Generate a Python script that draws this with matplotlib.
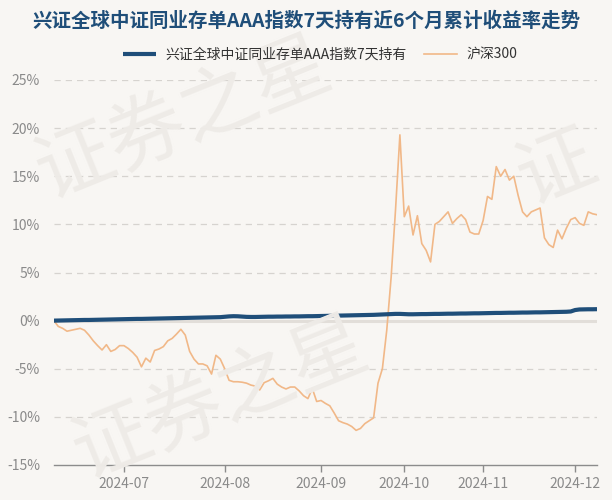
import numpy as np
import pandas as pd
import matplotlib
matplotlib.use("Agg")
import matplotlib.pyplot as plt

plt.rcParams['font.family'] = ['Noto Sans CJK SC', 'DejaVu Sans']

title = "兴证全球中证同业存单AAA指数7天持有近6个月累计收益率走势"
fund_name = "兴证全球中证同业存单AAA指数7天持有"
bench_name = "沪深300"

# trading calendar (Shanghai exchange), 2024-06-06 .. 2024-12-09
holidays = pd.to_datetime(["2024-06-10", "2024-09-16", "2024-09-17",
                           "2024-10-01", "2024-10-02", "2024-10-03",
                           "2024-10-04", "2024-10-07"])
dates = pd.bdate_range("2024-06-06", "2024-12-09")
dates = dates[~dates.isin(holidays)]

# cumulative return, %
hs300 = [
    0.0, -0.6, -0.8, -1.1, -1.0, -0.9, -0.8, -1.0, -1.5, -2.1,
    -2.6, -3.05, -2.5, -3.2, -3.0, -2.6, -2.6, -2.9, -3.3, -3.8,
    -4.8, -3.9, -4.3, -3.1, -2.95, -2.7, -2.1, -1.85, -1.4, -0.9,
    -1.5, -3.2, -4.0, -4.5, -4.5, -4.7, -5.55, -3.6, -4.0, -5.0,
    -6.2, -6.35, -6.35, -6.4, -6.5, -6.7, -6.8, -7.2, -6.45, -6.25,
    -6.0, -6.6, -6.9, -7.1, -6.9, -6.9, -7.3, -7.8, -8.1, -7.05,
    -8.4, -8.3, -8.6, -8.85, -9.6, -10.4, -10.6, -10.75, -11.0, -11.4,
    -11.2, -10.7, -10.4, -10.1, -6.5, -5.0, -1.0, 4.5, 11.5, 19.3,
    10.8, 11.9, 8.9, 10.9, 8.0, 7.3, 6.1, 10.0, 10.3, 10.8,
    11.3, 10.1, 10.6, 11.0, 10.5, 9.2, 9.0, 9.0, 10.4, 12.9,
    12.6, 16.0, 15.0, 15.7, 14.6, 15.0, 13.0, 11.3, 10.8, 11.3,
    11.5, 11.7, 8.6, 7.9, 7.6, 9.4, 8.5, 9.6, 10.5, 10.7,
    10.1, 9.9, 11.3, 11.1, 11.0,
]
fund = [
    0.00, 0.01, 0.02, 0.03, 0.04, 0.05, 0.06, 0.07, 0.07, 0.08,
    0.09, 0.10, 0.11, 0.12, 0.13, 0.14, 0.15, 0.16, 0.17, 0.18,
    0.18, 0.19, 0.20, 0.21, 0.22, 0.23, 0.24, 0.25, 0.26, 0.27,
    0.28, 0.29, 0.30, 0.31, 0.32, 0.33, 0.34, 0.35, 0.36, 0.40,
    0.44, 0.46, 0.45, 0.42, 0.39, 0.38, 0.38, 0.39, 0.40, 0.41,
    0.41, 0.42, 0.42, 0.43, 0.43, 0.44, 0.44, 0.45, 0.46, 0.46,
    0.47, 0.48, 0.49, 0.50, 0.51, 0.52, 0.53, 0.54, 0.55, 0.56,
    0.57, 0.58, 0.59, 0.60, 0.62, 0.64, 0.66, 0.68, 0.70, 0.70,
    0.68, 0.66, 0.66, 0.67, 0.68, 0.68, 0.69, 0.70, 0.70, 0.71,
    0.72, 0.72, 0.73, 0.74, 0.74, 0.75, 0.76, 0.76, 0.77, 0.78,
    0.79, 0.80, 0.80, 0.81, 0.82, 0.82, 0.83, 0.84, 0.84, 0.85,
    0.86, 0.86, 0.87, 0.88, 0.89, 0.90, 0.91, 0.92, 0.95, 1.10,
    1.16, 1.17, 1.18, 1.18, 1.19,
]
yticks = [-15, -10, -5, 0, 5, 10, 15, 20, 25]

bg = '#f8f6f3'
navy = '#1f4e79'
orange = '#f1b888'
grey_txt = '#8a8a8a'

fig = plt.figure(figsize=(6.12, 5.0), dpi=100, facecolor=bg)
ax = fig.add_axes([0.088, 0.07, 0.8875, 0.77], facecolor=bg)

# watermark
wm_kw = dict(fontsize=56, color='#eeebe7', rotation=22, ha='center', va='center',
             zorder=0)
fig.text(0.30, 0.76, "证券之星", **wm_kw)
fig.text(0.36, 0.20, "证券之星", **wm_kw)
fig.text(0.91, 0.66, "证", **wm_kw)

x = np.arange(len(dates))
for yv in yticks:
    if yv == -15:
        continue
    if yv == 0:
        ax.axhline(0, color='#e2ded9', lw=2.2, zorder=1)
    else:
        ax.axhline(yv, color='#d6d3cf', lw=0.9, ls=(0, (5, 4)), zorder=1)

l_bench, = ax.plot(x, hs300, color=orange, lw=1.2, zorder=3)
l_fund, = ax.plot(x, fund, color=navy, lw=3.0, zorder=4, solid_capstyle='butt')

ax.set_xlim(0, len(dates) - 1)
ax.set_ylim(-15, 25)
ax.set_yticks(yticks)
ax.set_yticklabels([f"{v}%" for v in yticks])

month_first = pd.Series(x, index=dates).groupby(dates.to_period('M')).first()
tick_pos = month_first.values[1:]
tick_lab = [str(p) for p in month_first.index[1:]]
ax.set_xticks(tick_pos)
ax.set_xticklabels(tick_lab)

for s in ['top', 'right', 'left']:
    ax.spines[s].set_visible(False)
ax.spines['bottom'].set_color('#8c8c8c')
ax.spines['bottom'].set_linewidth(1.0)
ax.tick_params(axis='y', length=0, labelsize=10, labelcolor=grey_txt, pad=10)
ax.tick_params(axis='x', length=5, width=1, color='#8c8c8c', labelsize=10,
               labelcolor=grey_txt, pad=4)

fig.text(0.5, 0.958, title, ha='center', va='center', fontsize=14.0,
         fontweight='bold', color=navy)

leg = fig.legend(handles=[l_fund, l_bench], labels=[fund_name, bench_name],
                 loc='center', bbox_to_anchor=(0.523, 0.89),
                 ncol=2, frameon=False, fontsize=10.0, handlelength=2.4,
                 columnspacing=1.2, handletextpad=0.7)
for t in leg.get_texts():
    t.set_color('#333333')

fig.savefig("out.png", dpi=100, facecolor=bg)
